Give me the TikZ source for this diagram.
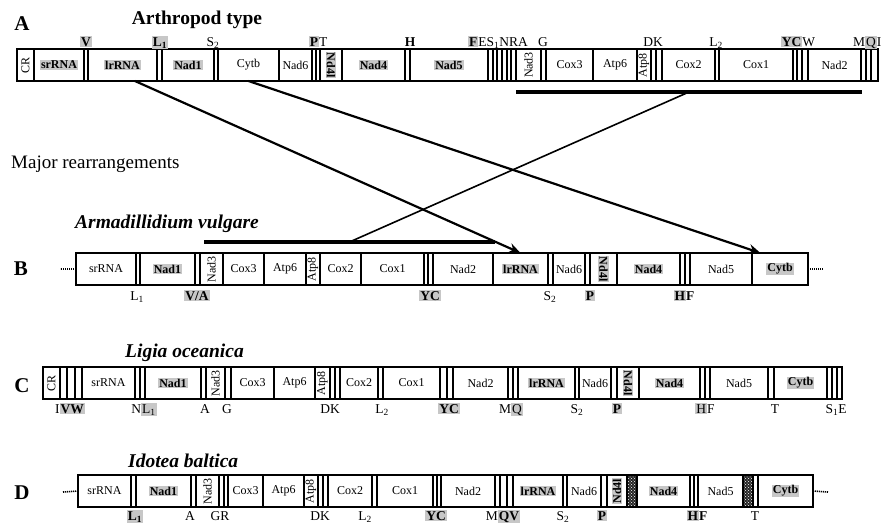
\documentclass[tikz,border=0pt]{standalone}
\usepackage{fontspec}
\setmainfont{Liberation Serif}
\usepackage{graphicx}
\usetikzlibrary{arrows.meta,calc,patterns}
\definecolor{shadeg}{gray}{0.78}
\newcommand\shdbox[1]{{\setlength{\fboxsep}{1pt}\colorbox{shadeg}{#1}}}
\newcommand\rtxt[1]{\rotatebox{90}{#1}}
\newcommand\rtxtm[1]{\rotatebox{-90}{#1}}
\newcommand\sbs[1]{\textsubscript{#1}}
\newcommand\gcell[5][]{\node[cell,minimum width={#4-#3},#1] (#2) at ({(#3+#4)/2},\ry) {#5};}
\newcommand\glab[4][]{\node[lbl,#1] (#2) at (#3,\ly) {#4};}
\tikzset{
 cell/.style={draw, line width=1.1pt, minimum height=32pt, inner sep=0pt, outer sep=0pt, font=\fontsize{12}{14}\selectfont},
 lbl/.style={anchor=base, inner sep=0pt, font=\fontsize{13.5}{15}\selectfont},
 hatch/.style={preaction={fill=black!85}, pattern=crosshatch dots, pattern color=white},
 arr/.style={line width=2.2pt, -{Stealth[length=12pt,width=10pt]}},
 barline/.style={line width=4.5pt},
 crossline/.style={line width=1.6pt},
 enddash/.style={line width=1.6pt, dash pattern=on 1.2pt off 0.8pt},
 rowlab/.style={font=\fontsize{21}{24}\selectfont\bfseries, anchor=base, inner sep=0pt},
 species/.style={font=\fontsize{19.5}{22}\selectfont\bfseries\itshape, anchor=base west, inner sep=0pt},
}
\begin{document}
\begin{tikzpicture}[x=1pt,y=-1pt]
\useasboundingbox (0,0) rectangle (881,525);
% ---------- titles ----------
\node[rowlab] (labA) at (22,30) {A};
\node[font=\fontsize{19.5}{22}\selectfont\bfseries, anchor=base, inner sep=0pt] (titA) at (197,24) {Arthropod type};
\node[font=\fontsize{19}{22}\selectfont, anchor=base west, inner sep=0pt] (major) at (11,168) {Major rearrangements};
\node[species] (spB) at (75,228) {Armadillidium vulgare};
\node[rowlab] (labB) at (21,275) {B};
\node[species] (spC) at (125,357) {Ligia oceanica};
\node[rowlab] (labC) at (22,392) {C};
\node[species] (spD) at (128,467) {Idotea baltica};
\node[rowlab] (labD) at (22,499) {D};
% ---------- row A ----------
\def\ry{65}
\gcell{aCR}{17}{34}{\rtxt{CR}}
\gcell{aSr}{34}{84}{\shdbox{\textbf{srRNA}}}
\gcell{aV}{84}{88}{}
\gcell{aLr}{88}{157}{\shdbox{\textbf{lrRNA}}}
\gcell{aL1}{157}{162}{}
\gcell{aN1}{162}{214}{\shdbox{\textbf{Nad1}}}
\gcell{aS2}{214}{218}{}
\gcell{aCy}{218}{279}{Cytb}
\gcell{aN6}{279}{312}{Nad6}
\gcell{aP}{312}{316}{}
\gcell{aT}{316}{320}{}
\gcell{aN4l}{320}{342}{\rtxtm{\shdbox{\textbf{Nd4l}}}}
\gcell{aN4}{342}{405}{\shdbox{\textbf{Nad4}}}
\gcell{aH}{405}{410}{}
\gcell{aN5}{410}{488}{\shdbox{\textbf{Nad5}}}
\gcell{aF}{488}{493}{}
\gcell{aE}{493}{497}{}
\gcell{aS1}{497}{502}{}
\gcell{aN}{502}{507}{}
\gcell{aR}{507}{511}{}
\gcell{aA}{511}{516}{}
\gcell{aN3}{516}{541}{\rtxt{Nad3}}
\gcell{aG}{541}{546}{}
\gcell{aC3}{546}{593}{Cox3}
\gcell{aA6}{593}{637}{Atp6}
\gcell{aA8}{637}{651}{\rtxt{Atp8}}
\gcell{aD}{651}{656}{}
\gcell{aK}{656}{662}{}
\gcell{aC2}{662}{715}{Cox2}
\gcell{aL2}{715}{719}{}
\gcell{aC1}{719}{793}{Cox1}
\gcell{aY}{793}{797}{}
\gcell{aC}{797}{802}{}
\gcell{aW}{802}{808}{}
\gcell{aN2}{808}{861}{Nad2}
\gcell{aM}{861}{866}{}
\gcell{aQ}{866}{871}{}
\gcell{aI}{871}{878}{}
\def\ly{46}
\glab{laV}{86}{\shdbox{\textbf{V}}}
\glab{laL1}{160}{\shdbox{\textbf{L\sbs{1}}}}
\glab{laS2}{213}{S\sbs{2}}
\glab{laPT}{318}{\shdbox{\textbf{P}}T}
\glab{laH}{410}{\textbf{H}}
\glab{laF}{498}{\shdbox{\textbf{F}}ES\sbs{1}NRA}
\glab{laG}{543}{G}
\glab{laDK}{653}{DK}
\glab{laL2}{716}{L\sbs{2}}
\glab{laYCW}{798}{\shdbox{\textbf{YC}}W}
\glab[anchor=base west]{laMQI}{853}{M\shdbox{Q}I}
% ---------- row B ----------
\def\ry{269}
\gcell{bSr}{76}{136}{srRNA}
\gcell{bL1}{136}{140}{}
\gcell{bN1}{140}{195}{\shdbox{\textbf{Nad1}}}
\gcell{bVA}{195}{200}{}
\gcell{bN3}{200}{223}{\rtxt{Nad3}}
\gcell{bC3}{223}{264}{Cox3}
\gcell{bA6}{264}{306}{Atp6}
\gcell{bA8}{306}{320}{\rtxt{Atp8}}
\gcell{bC2}{320}{361}{Cox2}
\gcell{bC1}{361}{424}{Cox1}
\gcell{bY}{424}{428}{}
\gcell{bC}{428}{433}{}
\gcell{bN2}{433}{493}{Nad2}
\gcell{bLr}{493}{548}{\shdbox{\textbf{lrRNA}}}
\gcell{bS2}{548}{553}{}
\gcell{bN6}{553}{585}{Nad6}
\gcell{bP}{585}{590}{}
\gcell{bN4l}{590}{617}{\rtxtm{\shdbox{\textbf{Nd4l}}}}
\gcell{bN4}{617}{680}{\shdbox{\textbf{Nad4}}}
\gcell{bH}{680}{685}{}
\gcell{bF}{685}{690}{}
\gcell{bN5}{690}{752}{Nad5}
\gcell{bCy}{752}{808}{\shdbox{\textbf{Cytb}}}
\coordinate (bEl) at (60,269);
\coordinate (bEr) at (823,269);
\draw[enddash] (bSr.west) -- (bEl);
\draw[enddash] (bCy.east) -- (bEr);
\def\ly{300}
\glab{lbL1}{137}{L\sbs{1}}
\glab{lbVA}{197}{\shdbox{\textbf{V/A}}}
\glab{lbYC}{430}{\shdbox{\textbf{YC}}}
\glab{lbS2}{550}{S\sbs{2}}
\glab{lbP}{590}{\shdbox{\textbf{P}}}
\glab{lbHF}{684}{\shdbox{\textbf{H}}\textbf{F}}
% ---------- row C ----------
\def\ry{383}
\gcell{cCR}{43}{60}{\rtxt{CR}}
\gcell{cI}{60}{67}{}
\gcell{cV}{67}{75}{}
\gcell{cW}{75}{82}{}
\gcell{cSr}{82}{135}{srRNA}
\gcell{cN}{135}{140}{}
\gcell{cL1}{140}{145}{}
\gcell{cN1}{145}{201}{\shdbox{\textbf{Nad1}}}
\gcell{cA}{201}{206}{}
\gcell{cN3}{206}{225}{\rtxt{Nad3}}
\gcell{cG}{225}{231}{}
\gcell{cC3}{231}{274}{Cox3}
\gcell{cA6}{274}{315}{Atp6}
\gcell{cA8}{315}{330}{\rtxt{Atp8}}
\gcell{cD}{330}{335}{}
\gcell{cK}{335}{340}{}
\gcell{cC2}{340}{378}{Cox2}
\gcell{cL2}{378}{383}{}
\gcell{cC1}{383}{440}{Cox1}
\gcell{cY}{440}{447}{}
\gcell{cC}{447}{453}{}
\gcell{cN2}{453}{508}{Nad2}
\gcell{cM}{508}{513}{}
\gcell{cQ}{513}{518}{}
\gcell{cLr}{518}{575}{\shdbox{\textbf{lrRNA}}}
\gcell{cS2}{575}{579}{}
\gcell{cN6}{579}{611}{Nad6}
\gcell{cP}{611}{617}{}
\gcell{cN4l}{617}{639}{\rtxtm{\shdbox{\textbf{Nd4l}}}}
\gcell{cN4}{639}{700}{\shdbox{\textbf{Nad4}}}
\gcell{cH}{700}{705}{}
\gcell{cF}{705}{710}{}
\gcell{cN5}{710}{768}{Nad5}
\gcell{cT}{768}{774}{}
\gcell{cCy}{774}{827}{\shdbox{\textbf{Cytb}}}
\gcell{cS1}{827}{832}{}
\gcell{cE}{832}{837}{}
\gcell{cX}{837}{842}{}
\def\ly{413}
\glab{lcIVW}{70}{I\shdbox{\textbf{VW}}}
\glab{lcNL}{144}{N\shdbox{L\sbs{1}}}
\glab{lcA}{205}{A}
\glab{lcG}{227}{G}
\glab{lcDK}{330}{DK}
\glab{lcL2}{382}{L\sbs{2}}
\glab{lcYC}{449}{\shdbox{\textbf{YC}}}
\glab{lcMQ}{511}{M\shdbox{Q}}
\glab{lcS2}{577}{S\sbs{2}}
\glab{lcP}{617}{\shdbox{\textbf{P}}}
\glab{lcHF}{705}{\shdbox{H}F}
\glab{lcT}{775}{T}
\glab{lcSE}{836}{S\sbs{1}E}
% ---------- row D ----------
\def\ry{491}
\gcell{dSr}{78}{131}{srRNA}
\gcell{dL1}{131}{136}{}
\gcell{dN1}{136}{191}{\shdbox{\textbf{Nad1}}}
\gcell{dA}{191}{196}{}
\gcell{dN3}{196}{219}{\rtxt{Nad3}}
\gcell{dG}{219}{224}{}
\gcell{dR}{224}{228}{}
\gcell{dC3}{228}{263}{Cox3}
\gcell{dA6}{263}{304}{Atp6}
\gcell{dA8}{304}{318}{\rtxt{Atp8}}
\gcell{dD}{318}{323}{}
\gcell{dK}{323}{328}{}
\gcell{dC2}{328}{372}{Cox2}
\gcell{dL2}{372}{377}{}
\gcell{dC1}{377}{433}{Cox1}
\gcell{dY}{433}{437}{}
\gcell{dC}{437}{441}{}
\gcell{dN2}{441}{495}{Nad2}
\gcell{dM}{495}{500}{}
\gcell{dQ}{500}{507}{}
\gcell{dV}{507}{513}{}
\gcell{dLr}{513}{563}{\shdbox{\textbf{lrRNA}}}
\gcell{dS2}{563}{567}{}
\gcell{dN6}{567}{601}{Nad6}
\gcell{dP}{601}{607}{}
\gcell{dN4l}{607}{627}{\rtxt{\shdbox{\textbf{Nd4l}}}}
\gcell[hatch]{dX1}{627}{637}{}
\gcell{dN4}{637}{690}{\shdbox{\textbf{Nad4}}}
\gcell{dH}{690}{694}{}
\gcell{dF}{694}{698}{}
\gcell{dN5}{698}{743}{Nad5}
\gcell[hatch]{dX2}{743}{753}{}
\gcell{dT}{753}{758}{}
\gcell{dCy}{758}{813}{\shdbox{\textbf{Cytb}}}
\coordinate (dEl) at (63,492);
\coordinate (dEr) at (828,492);
\draw[enddash] (dSr.west) -- (dEl);
\draw[enddash] (dCy.east) -- (dEr);
\def\ly{520}
\glab{ldL1}{135}{\shdbox{\textbf{L\sbs{1}}}}
\glab{ldA}{190}{A}
\glab{ldGR}{220}{GR}
\glab{ldDK}{320}{DK}
\glab{ldL2}{365}{L\sbs{2}}
\glab{ldYC}{436}{\shdbox{\textbf{YC}}}
\glab{ldMQV}{503}{M\shdbox{\textbf{QV}}}
\glab{ldS2}{563}{S\sbs{2}}
\glab{ldP}{602}{\shdbox{\textbf{P}}}
\glab{ldHF}{697}{\shdbox{\textbf{H}}\textbf{F}}
\glab{ldT}{755}{T}
% ---------- rearrangements ----------
\coordinate (barAl) at (516,92);
\coordinate (barAr) at (862,92);
\coordinate (barBl) at (204,242);
\coordinate (barBr) at (495,242);
\draw[barline] (barAl) -- (barAr);
\draw[barline] (barBl) -- (barBr);
\draw[crossline] ($(barAl)!0.5!(barAr)$) -- ($(barBl)!0.5!(barBr)$);
\coordinate (s1) at ($(aLr.south west)!0.68!(aLr.south east)$);
\coordinate (t2) at ($(bCy.north west)!0.15!(bCy.north east)$);
\draw[arr] (s1) -- (bLr.north);
\draw[arr] (aCy.south) -- (t2);
\end{tikzpicture}
\end{document}
